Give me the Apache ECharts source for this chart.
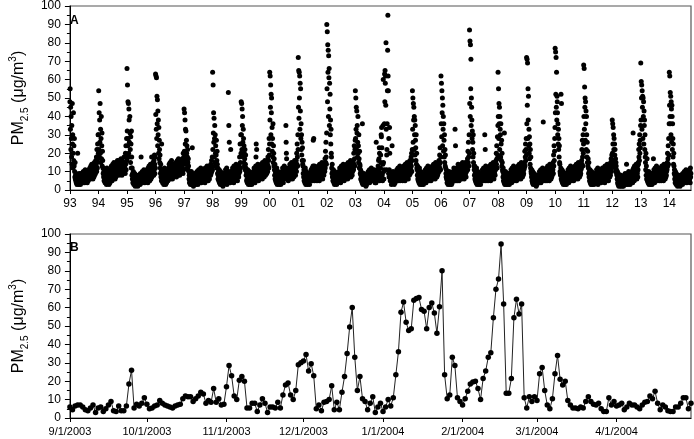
<!DOCTYPE html>
<html><head><meta charset="utf-8">
<script src="https://cdn.jsdelivr.net/npm/echarts@6/dist/echarts.min.js"></script>
<style>html,body{margin:0;padding:0;background:#fff}#c{width:694px;height:439px}</style>
</head><body><div id="c"></div>
<script>
// ---------- Panel A: PM2.5 samples, one value every 3 days per year ----------
const y1993 = [48,55,33,45,22,40,28,18,35,14,47,25,30,12,20,42,16,24,13,28,
10,7,15,6,8,5,9,4,7,6,3,8,5,20,6,4,7,5,3,9,6,4,8,5,7,3,6,9,4,5,7,
6,8,5,9,7,4,10,6,8,5,7,9,4,6,11,5,8,7,6,9,5,10,7,4,8,6,9,5,7,11,6,
8,10,7,12,9,6,11,13,8,10,7,14,9,11,8,12,6,10,13,9,7,11,15,8,12,10,14,9,16,11,
13,18,10,22,15,12,25,17,30,20];
const y1994 = [30,54,22,42,18,38,26,47,20,33,15,28,40,17,24,31,13,21,16,12,
9,12,7,10,5,8,11,6,4,9,7,5,10,6,3,8,12,5,7,4,9,6,11,5,8,3,7,10,6,4,8,
8,11,6,9,13,7,10,5,12,8,14,9,6,11,7,15,9,12,8,10,6,13,9,7,11,14,8,10,12,9,16,
12,9,15,11,14,8,13,16,10,12,9,15,11,13,17,10,14,12,8,16,11,13,9,15,12,10,14,18,11,13,
12,15,9,20,14,24,11,18,28,16];
const y1995 = [66,32,57,24,48,28,47,20,44,38,26,18,40,31,22,15,29,25,12,32,
18,8,12,6,9,4,7,10,5,3,8,6,4,9,5,2,7,3,6,4,8,5,3,7,4,6,2,5,8,4,6,
5,7,4,8,6,3,9,5,7,18,4,6,8,5,10,7,4,9,6,8,5,11,7,6,9,4,8,6,10,5,7,
7,9,5,11,8,6,10,4,12,7,9,6,13,8,10,5,11,7,14,9,6,12,8,18,7,13,9,11,8,15,
10,13,8,16,11,19,14,9,18,12];
const y1996 = [63,41,62,33,61,28,51,36,49,24,43,30,38,20,34,17,27,22,15,19,
12,9,14,7,10,5,25,8,6,11,4,9,7,5,10,3,8,6,12,4,7,9,5,3,8,6,10,4,7,5,9,
7,10,5,8,12,6,9,14,7,11,8,15,6,10,13,9,7,16,11,8,12,6,10,14,9,7,11,13,8,10,12,
11,8,13,10,15,9,12,7,14,11,9,16,10,13,8,12,17,9,11,14,10,8,13,15,9,12,10,14,11,16,
13,10,17,12,15,9,20,14,11,18];
const y1997 = [44,21,42,16,38,25,33,18,32,14,27,20,24,12,18,22,15,11,17,13,
10,6,8,4,9,5,7,3,6,8,4,10,5,7,3,23,6,4,8,5,2,7,4,6,9,3,5,8,4,6,3,
5,8,4,7,10,5,6,9,3,8,5,11,6,7,4,9,6,10,5,8,12,6,7,4,9,11,5,8,6,10,7,
8,6,10,5,9,11,7,4,12,8,6,10,9,5,11,7,13,6,9,8,12,5,10,7,11,9,6,13,8,10,
11,8,14,9,12,16,10,13,18,11];
const y1998 = [64,22,57,31,42,26,39,18,28,35,15,30,20,24,13,19,27,12,16,21,
14,9,12,6,8,10,5,7,11,4,9,6,8,3,10,5,7,4,9,6,3,8,5,7,2,6,9,4,5,7,6,
6,9,4,8,11,5,7,10,6,12,3,8,5,9,7,4,53,10,35,8,26,5,9,7,4,8,22,6,10,5,7,
7,10,5,12,8,6,11,9,4,13,7,10,8,12,5,9,11,6,14,8,10,7,12,9,5,11,8,13,10,7,
9,13,11,18,10,25,15,12,30,20];
const y1999 = [48,30,47,22,44,35,40,26,18,33,28,15,24,20,13,17,22,11,14,19,
12,8,10,5,9,6,4,8,11,5,7,3,9,6,4,10,5,8,3,7,6,9,4,5,8,3,6,7,4,9,5,
7,10,5,9,12,6,8,11,4,9,7,13,18,25,10,22,8,6,11,9,14,7,10,5,12,8,9,6,11,13,7,
9,12,7,14,10,8,13,11,6,15,9,12,10,8,14,11,7,13,10,16,9,12,8,14,11,10,15,9,13,12,
14,10,18,13,22,16,12,28,19,25];
const y2000 = [64,38,62,45,57,30,52,42,50,25,34,21,28,18,36,15,24,20,13,17,
11,8,14,6,10,5,9,7,4,8,12,6,3,9,5,7,10,4,8,6,3,7,5,9,4,6,8,3,7,5,6,
8,5,10,7,12,6,9,4,11,7,8,13,6,10,8,11,9,7,35,26,20,17,8,12,6,9,7,10,5,8,11,
9,7,12,8,14,10,6,13,9,11,7,15,8,12,10,6,14,9,11,8,13,7,12,10,16,9,11,14,8,12,
12,16,10,20,14,25,18,13,30,22];
const y2001 = [72,45,65,39,64,50,62,33,58,43,55,28,36,22,30,19,26,16,23,14,
13,9,16,7,11,5,10,8,4,9,12,6,3,8,5,10,7,4,9,6,3,8,5,7,4,6,9,5,3,7,6,
6,9,5,8,11,7,10,6,12,9,5,8,13,27,7,28,6,9,13,5,10,7,12,8,6,9,11,7,10,5,8,
8,11,6,13,9,7,12,10,5,14,8,11,9,6,13,10,7,12,9,15,8,11,6,13,10,9,14,8,12,11,
13,10,17,12,21,15,26,18,14,31];
const y2002 = [90,55,86,48,79,64,76,40,73,61,66,35,58,44,52,30,38,25,33,20,
18,12,9,14,7,10,5,8,11,6,4,9,7,3,10,5,8,6,4,9,5,7,3,8,6,4,9,5,7,4,6,
7,10,5,9,12,6,8,11,4,9,7,13,6,10,8,5,11,7,9,14,6,10,8,5,12,7,9,11,6,8,10,
9,12,7,14,10,8,13,6,11,15,9,12,7,10,14,8,11,13,9,16,10,7,12,14,9,11,8,13,10,15,
12,16,11,20,14,24,17,13,22,27];
const y2003 = [54,28,50,33,45,22,43,31,35,18,26,40,20,24,15,30,17,12,21,14,
13,9,11,6,8,10,5,7,9,4,36,6,3,8,5,7,4,9,6,3,7,5,8,4,6,2,5,7,3,6,4,
5,8,4,7,10,6,9,5,8,11,4,7,6,9,5,10,7,12,6,8,5,9,11,7,6,10,8,5,9,7,11,
6,7,4,5,9,5,4,26,6,8,7,9,6,7,11,13,9,16,10,17,23,20,5,8,6,12,19,15,30,29,
34,23,8,9,5,14,35,60,15,10];
const y2004 = [6,11,36,63,48,65,58,62,46,80,33,11,19,22,36,54,76,95,62,54,
9,28,7,11,34,20,9,5,6,9,8,5,3,9,7,24,8,6,5,10,7,4,8,6,3,9,5,7,4,6,8,
6,9,5,8,11,7,10,6,9,12,5,8,12,6,10,7,9,13,5,8,11,6,10,7,9,12,8,6,10,5,9,
8,11,6,13,9,7,12,10,5,14,8,11,9,6,13,10,7,15,9,12,8,11,6,13,10,9,14,8,12,16,
12,9,15,11,18,13,20,10,16,22];
const y2005 = [54,33,50,26,47,38,45,22,40,30,38,19,35,27,23,16,30,14,20,12,
11,8,13,6,9,5,10,7,4,8,12,6,3,9,5,7,10,4,8,6,3,7,5,9,4,6,8,3,7,5,6,
6,9,5,8,11,7,10,4,9,12,6,8,5,10,7,13,6,9,8,11,5,10,7,9,12,6,8,10,5,9,7,
8,11,7,13,9,6,12,10,14,8,11,7,13,9,10,6,12,15,8,11,9,13,7,10,12,8,14,9,11,13,
12,16,10,14,19,12,23,15,11,18];
const y2006 = [62,36,58,29,54,42,50,24,46,33,40,21,36,27,18,30,15,22,13,19,
12,9,7,11,6,8,4,10,5,7,3,9,6,8,4,10,5,7,3,6,9,4,8,5,7,3,6,9,4,5,8,
7,10,5,9,12,6,9,8,11,33,7,24,5,9,10,6,12,8,5,11,7,9,14,6,10,8,5,12,7,9,6,
8,12,7,10,14,9,6,13,11,8,15,10,7,12,9,14,11,6,13,10,8,12,15,9,11,7,13,10,14,12,
13,17,11,21,15,26,18,13,30,20];
const y2007 = [87,47,81,40,79,55,71,35,50,45,38,28,32,22,26,18,30,15,20,13,
11,8,13,6,9,5,10,7,4,8,12,6,3,9,5,7,10,4,8,6,3,7,5,9,4,6,8,3,7,5,6,
6,9,5,8,11,7,10,6,9,12,5,8,11,7,30,10,22,9,13,5,8,11,7,10,6,9,12,8,5,10,7,
8,11,6,13,9,7,12,10,5,14,8,11,9,6,13,10,7,12,9,15,8,11,6,13,10,9,14,8,12,11,
12,16,20,14,24,17,12,29,19,35];
const y2008 = [64,40,55,28,47,36,45,22,40,33,30,18,36,25,16,27,13,20,15,11,
10,7,12,5,9,8,4,31,6,3,8,5,10,4,7,3,9,6,4,8,5,7,3,6,9,4,5,8,3,6,7,
6,9,5,8,11,7,10,4,9,12,6,8,5,10,7,13,6,9,8,11,5,10,7,9,12,6,8,10,5,9,7,
8,11,7,13,9,6,12,10,14,8,11,7,13,9,10,6,12,15,8,11,9,13,7,10,12,8,14,9,11,13,
12,15,21,13,18,25,16,22,28,19];
const y2009 = [72,36,71,46,69,28,55,38,51,24,33,20,29,17,25,14,22,12,18,10,
9,7,11,5,8,4,10,6,3,8,5,7,4,9,6,3,7,5,8,4,6,2,5,7,3,6,4,8,5,7,4,
5,8,4,7,10,6,9,5,8,11,4,7,6,9,5,10,7,12,6,8,37,5,9,11,7,6,10,8,5,9,7,
7,10,6,12,8,5,11,9,13,7,10,6,12,8,9,5,11,14,7,10,8,12,6,9,11,7,13,8,10,12,
11,15,9,19,13,24,16,21,28,34];
const y2010 = [77,42,75,52,72,45,64,38,51,48,42,30,36,25,33,22,28,18,24,15,
14,10,9,8,12,52,6,47,5,11,7,4,8,6,10,3,7,5,9,4,6,8,3,7,5,9,4,6,3,8,5,
6,9,5,8,11,7,10,4,9,12,6,8,5,10,7,13,6,9,8,11,5,10,7,9,12,6,8,10,5,9,7,
8,11,7,13,9,6,12,10,14,8,11,7,13,9,10,6,12,15,8,11,9,13,7,10,12,8,14,9,11,13,
12,16,22,14,27,18,13,30,20,25];
const y2011 = [68,40,66,33,56,45,50,27,48,36,43,22,40,30,18,26,15,21,13,17,
12,9,15,7,10,5,8,11,4,9,6,3,8,5,10,4,7,3,9,6,4,8,5,7,3,6,9,4,5,8,6,
6,9,4,8,11,5,7,10,6,12,3,8,5,9,7,4,10,6,8,11,5,9,7,4,8,6,10,5,7,12,6,
7,10,5,12,8,6,11,9,4,13,7,10,8,12,5,9,11,6,14,8,10,7,12,9,5,11,8,13,10,7,
9,12,8,15,11,17,10,14,19,13];
const y2012 = [38,20,36,25,34,16,30,22,28,14,25,19,22,12,17,10,15,13,11,9,
8,6,10,4,7,3,9,5,2,6,8,4,3,7,5,2,6,4,8,3,5,7,2,6,4,3,7,5,2,6,4,
5,7,3,6,9,4,8,5,3,7,14,5,8,4,6,9,3,7,5,10,6,4,8,5,7,3,9,6,4,8,5,
6,9,5,10,7,4,11,31,6,12,7,9,5,13,8,10,6,11,7,9,14,8,12,6,10,9,13,7,11,15,
14,22,18,25,16,30,20,27,23,35];
const y2013 = [69,38,59,50,57,33,54,45,51,28,50,40,48,25,43,35,38,22,30,18,
15,11,20,8,13,6,10,17,5,9,7,4,8,6,10,3,7,5,9,4,6,8,3,7,5,9,4,6,3,8,5,
6,9,5,17,8,11,7,10,4,9,12,6,8,5,10,7,13,6,9,8,11,5,10,7,9,12,6,8,10,5,9,
7,10,6,12,8,5,11,9,13,7,10,6,12,8,9,5,11,14,7,10,8,12,6,9,11,7,13,8,10,12,
11,15,20,13,17,24,14,28,19,36];
const y2014 = [64,46,62,40,53,36,51,30,48,44,26,46,40,22,36,28,18,25,14,20,
13,9,11,6,8,4,10,5,7,3,9,6,4,8,5,2,7,3,6,4,8,5,3,7,4,6,2,5,8,4,6,
5,7,4,8,6,3,9,5,7,4,6,8,5,10,7,4,9,6,8,5,11,7,6,9,4,8,6,10,5,7,6,
7,9,5,11,8,6,10,4,12,7,9];
const yearsA = [1993,1994,1995,1996,1997,1998,1999,2000,2001,2002,2003,
                2004,2005,2006,2007,2008,2009,2010,2011,2012,2013,2014];
const valuesA = [y1993,y1994,y1995,y1996,y1997,y1998,y1999,y2000,y2001,y2002,y2003,
                 y2004,y2005,y2006,y2007,y2008,y2009,y2010,y2011,y2012,y2013,y2014];
const yearLabelsA = ['93','94','95','96','97','98','99','00','01','02','03',
                     '04','05','06','07','08','09','10','11','12','13','14'];
const sampleStepDaysA = 3;

// ---------- Panel B: daily PM2.5, 9/1/2003 - 4/30/2004 ----------
const startB = [2003, 8, 1];
const valuesB = [
6,4.5,6.5,7,7,6,4.5,4,5.5,7,3,5.5,6,3.5,5,7,9,4,3.5,6.5,4,4,6.5,18.5,26,5.5,7.5,6.5,8,11,
7.5,5,5.5,6.5,7,9.5,8,7,6.5,6,5.5,6.5,7,7.5,10.5,12,11.5,11.5,9,10.5,12,14,13,8,9.5,8.5,16,8.5,10.5,7,7.5,
17,28.5,23,12,10,20.5,22.5,20,5.5,5.5,8,8,3.5,7,10.5,8,3,6,6,5.5,8.5,5.5,12.5,18,19,12.5,10,15,29,30,
31,34.5,25.5,29.5,23,5,7,4,8.5,9,10,17.5,4.5,8.5,4.5,14,22.5,35,49.5,60,33,15,22.5,10.5,9,4.5,8,11.5,3,6,8,
3.5,6,10,6.5,11,23.5,36,57.5,63,52,47.5,48.5,64,65,65.5,59,58,48.5,60,62.5,57,46,60.5,80,23.5,10.5,12.5,33,28.5,11,9,
7,10.5,14.5,18.5,19.5,20,16,10,21.5,25.5,33,35.5,54.5,70,75.5,94.5,62,13.5,13.5,21.5,54.5,64.5,56.5,62,11,5.5,11.5,9,11.5,
9.5,24,27.5,15,7,5,10.5,24,34,21,18,20,9.5,7,5.5,5.5,5,6,5.5,9,11.5,9,7.5,7,8,5,3.5,3.5,11,7,9,
6.5,7,8,4.5,6,8,7,7,6,5,7,8.5,9,12,10.5,14.5,8,4.5,7,6,4,3.5,3.5,6,6,8,11,11,5,8];

// ---------- build ----------
const dataA = [];
yearsA.forEach((yr, k) => {
  valuesA[k].forEach((v, i) => dataA.push([yr + (i * sampleStepDaysA) / 365, v]));
});
const dataB = valuesB.map((v, i) => [new Date(startB[0], startB[1], startB[2] + i), v]);

const FONT = 'Liberation Sans, Arial, sans-serif';
const nameTxt = '{a|PM}{s|2.5}{a| (μg/m}{p|3}{a|)}';
const nameStyle = {
  color: '#000', fontFamily: FONT, fontSize: 16,
  rich: {
    a: {fontSize: 16, fontFamily: FONT, color: '#000', lineHeight: 22},
    s: {fontSize: 10, fontFamily: FONT, color: '#000', lineHeight: 10, verticalAlign: 'bottom'},
    p: {fontSize: 10, fontFamily: FONT, color: '#000', lineHeight: 10, verticalAlign: 'top'}
  }
};
function yAxisCfg(gi) {
  return {
    type: 'value', gridIndex: gi, min: 0, max: 100, interval: 10,
    name: nameTxt, nameLocation: 'middle', nameGap: 35, nameTextStyle: nameStyle,
    axisLine: {show: true, lineStyle: {color: '#000', width: 1}},
    axisTick: {show: true, length: 5, lineStyle: {color: '#000'}},
    minorTick: {show: true, splitNumber: 2, length: 3, lineStyle: {color: '#000'}},
    axisLabel: {color: '#000', fontSize: 12, fontFamily: FONT, margin: 9},
    splitLine: {show: false}
  };
}
const chart = echarts.init(document.getElementById('c'), null, {renderer: 'canvas'});
chart.setOption({
  animation: false,
  backgroundColor: '#fff',
  grid: [
    {left: 64, right: 3, top: 6, height: 184, show: true, borderColor: '#555', borderWidth: 1.2, containLabel: false},
    {left: 64, right: 3, top: 234, height: 184, show: true, borderColor: '#555', borderWidth: 1.2, containLabel: false}
  ],
  xAxis: [
    {type: 'value', gridIndex: 0, min: 1993, max: 2014.76, interval: 1,
     axisLine: {show: true, onZero: false, lineStyle: {color: '#000', width: 1}},
     axisTick: {show: true, length: 4, lineStyle: {color: '#000'}},
     axisLabel: {color: '#000', fontSize: 12, fontFamily: FONT, margin: 8, showMaxLabel: false,
       formatter: v => (Number.isInteger(v) ? (yearLabelsA[v - 1993] || '') : '')},
     splitLine: {show: false}},
    {type: 'time', gridIndex: 1, min: new Date(2003, 8, 1), max: new Date(2004, 3, 30),
     minInterval: 28 * 86400000, maxInterval: 31 * 86400000,
     axisLine: {show: true, onZero: false, lineStyle: {color: '#000', width: 1}},
     axisTick: {show: true, length: 4, lineStyle: {color: '#000'}},
     axisLabel: {color: '#000', fontSize: 11, fontFamily: FONT, margin: 8, showMaxLabel: false, hideOverlap: false,
       formatter: v => { const d = new Date(v); return (d.getMonth() + 1) + '/' + d.getDate() + '/' + d.getFullYear(); }},
     splitLine: {show: false}}
  ],
  yAxis: [yAxisCfg(0), yAxisCfg(1)],
  graphic: [
    {type: 'text', left: 70, top: 15, style: {text: 'A', font: 'bold 12px ' + FONT, fill: '#000'}},
    {type: 'text', left: 70, top: 242, style: {text: 'B', font: 'bold 12px ' + FONT, fill: '#000'}}
  ],
  series: [
    {type: 'scatter', xAxisIndex: 0, yAxisIndex: 0, data: dataA, symbol: 'circle', symbolSize: 5,
     itemStyle: {color: '#000', opacity: 1}, large: false, progressive: 0, silent: true},
    {type: 'line', xAxisIndex: 1, yAxisIndex: 1, data: dataB, symbol: 'circle', symbolSize: 5.5,
     showSymbol: true, showAllSymbol: true,
     lineStyle: {color: '#222', width: 1}, itemStyle: {color: '#000', opacity: 1}, silent: true}
  ]
});
</script></body></html>
